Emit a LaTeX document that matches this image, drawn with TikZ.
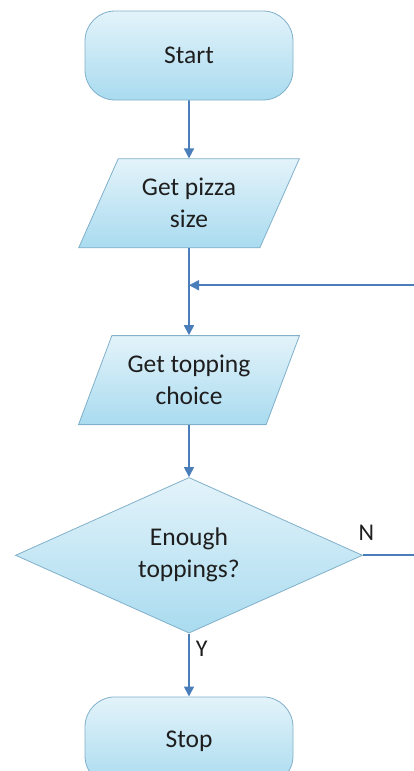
\documentclass[tikz,border=0pt]{standalone}
\usepackage{fontspec}
\setmainfont{Carlito}
\usetikzlibrary{shapes.geometric, positioning, arrows.meta}

\definecolor{boxtop}{HTML}{E3F3FA}
\definecolor{boxbottom}{HTML}{A9DBEF}
\definecolor{boxline}{HTML}{80B0CA}
\definecolor{flowline}{HTML}{4A7EBB}
\definecolor{boxtext}{HTML}{1E1E1E}

\begin{document}
\begin{tikzpicture}[
    x=1pt, y=1pt,
    ->, >={Triangle[length=10pt, width=10pt]},
    flow/.style={draw=flowline, line width=1.6pt},
    every edge/.style={flow},
    box/.style={draw=boxline, line width=0.8pt, top color=boxtop, bottom color=boxbottom,
        text=boxtext, align=center, font=\fontsize{25.5}{32}\selectfont},
    terminal/.style={box, rectangle, rounded corners=30pt, minimum width=208pt, minimum height=89pt},
    io/.style={box, trapezium, trapezium left angle=63, trapezium right angle=117,
        trapezium stretches=true, minimum width=221pt, minimum height=89pt, inner sep=2pt},
    decision/.style={box, diamond, minimum width=347pt, minimum height=151pt, inner sep=0pt},
    branch/.style={text=boxtext, inner sep=0pt, font=\fontsize{24}{28}\selectfont}
]
    \useasboundingbox (0,0) rectangle (413,-771);

    \node[terminal] (start) at (189,-55.5) {Start};
    \node[io, below=58pt of start]        (size)    {Get pizza\\size};
    \node[io, below=87pt of size]         (topping) {Get topping\\choice};
    \node[decision, below=52pt of topping] (enough)  {Enough\\toppings?};
    \node[terminal, below=63pt of enough]  (stop)    {Stop};

    % where the loop back joins the main line
    \path (size.south) ++(0,-37) coordinate (merge);

    \path
        (start)   edge (size)
        (size)    edge (topping)
        (topping) edge (enough)
        (enough)  edge node[branch, right, pos=0.24, xshift=6pt] {Y} (stop);

    \draw[flow] (enough.east) node[branch, anchor=south west, xshift=-5pt, yshift=14pt] {N}
        -- ++(80,0) |- (merge);
\end{tikzpicture}
\end{document}
